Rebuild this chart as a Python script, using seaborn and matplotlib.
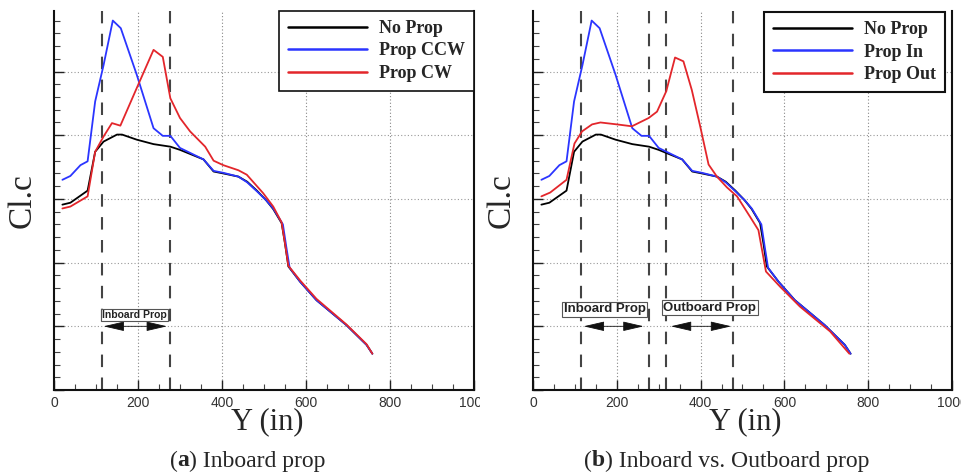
import numpy as np
import pandas as pd
import matplotlib
matplotlib.use("Agg")
import matplotlib.pyplot as plt
import seaborn as sns
from matplotlib.transforms import Bbox, TransformedBbox
from matplotlib.ticker import MultipleLocator

# ---------------- data ----------------
x_noprop = [20, 39, 80, 98, 118, 150, 162, 197, 237, 277, 300, 356, 380, 403, 439, 460, 483, 505, 522, 542, 550, 558, 586, 625, 696, 744, 758]
y_noprop = [2.91, 2.94, 3.13, 3.74, 3.90, 4.01, 4.01, 3.93, 3.86, 3.82, 3.77, 3.62, 3.43, 3.40, 3.35, 3.27, 3.13, 2.98, 2.84, 2.62, 2.30, 1.94, 1.70, 1.41, 1.02, 0.71, 0.57]

x_ccw = [20, 39, 63, 80, 98, 118, 140, 159, 197, 237, 259, 277, 300, 356, 380, 403, 439, 460, 483, 505, 522, 545, 553, 561, 586, 625, 696, 744, 758]
y_ccw = [3.30, 3.36, 3.53, 3.59, 4.53, 5.10, 5.80, 5.68, 4.95, 4.11, 3.99, 3.99, 3.80, 3.62, 3.44, 3.41, 3.35, 3.26, 3.12, 2.98, 2.85, 2.60, 2.25, 1.92, 1.70, 1.41, 1.02, 0.71, 0.57]

x_cw = [20, 39, 80, 98, 118, 138, 158, 197, 237, 259, 277, 300, 324, 360, 380, 403, 439, 459, 498, 522, 542, 550, 558, 586, 625, 696, 744, 758]
y_cw = [2.85, 2.88, 3.04, 3.74, 3.98, 4.19, 4.15, 4.74, 5.34, 5.23, 4.58, 4.27, 4.06, 3.82, 3.60, 3.53, 3.45, 3.38, 3.09, 2.88, 2.63, 2.30, 1.95, 1.72, 1.43, 1.03, 0.72, 0.57]

x_out = [20, 41, 80, 99, 117, 141, 161, 200, 236, 276, 296, 318, 339, 359, 379, 399, 419, 439, 463, 487, 518, 538, 556, 590, 637, 709, 755]
y_out = [3.04, 3.10, 3.30, 3.87, 4.06, 4.17, 4.20, 4.17, 4.14, 4.27, 4.37, 4.69, 5.22, 5.16, 4.71, 4.14, 3.54, 3.35, 3.18, 3.04, 2.72, 2.51, 1.86, 1.62, 1.31, 0.92, 0.57]

labels_a = ["No Prop", "Prop CCW", "Prop CW"]
labels_b = ["No Prop", "Prop In", "Prop Out"]
captions = [("a", " Inboard prop"), ("b", " Inboard vs. Outboard prop")]
inboard = (115, 277)
outboard = (318, 478)
xticks = [0, 200, 400, 600, 800, 1000]
yticks = [0, 1, 2, 3, 4, 5]

# ---------------- style ----------------
sns.set_style("ticks")
plt.rcParams["font.family"] = ["Liberation Serif", "DejaVu Serif"]

colors = ["#000000", "#2b35ff", "#e3262b"]

fig = plt.figure(figsize=(9.62, 4.74), dpi=100)
W, H = 962, 474
ax_a = fig.add_axes([54 / W, 84 / H, 420 / W, 379 / H])
ax_b = fig.add_axes([533 / W, 84 / H, 419 / W, 379 / H])


def frame(name, xs, ys):
    return pd.DataFrame({"Y": xs, "Cl": ys, "series": name})


def style_axes(ax):
    ax.set_xlim(0, 1000)
    ax.set_ylim(0, 5.95)
    ax.set_xticks(xticks)
    ax.set_xticklabels([str(t) for t in xticks], family=["Liberation Sans"], fontsize=10, color="#333333")
    ax.set_yticks(yticks)
    ax.set_yticklabels([])
    ax.xaxis.set_minor_locator(MultipleLocator(50))
    ax.yaxis.set_minor_locator(MultipleLocator(0.2))
    ax.tick_params(which="major", direction="in", length=7, width=1.0, color="#222222", pad=4)
    ax.tick_params(which="minor", direction="in", length=4, width=0.8, color="#444444")
    for t in [200, 400, 600, 800]:
        ax.axvline(t, color="#888888", lw=0.8, ls=(0, (1, 2)), zorder=0)
    for t in yticks[1:]:
        ax.axhline(t, color="#999999", lw=0.8, ls=(0, (1, 2)), zorder=0)
    ax.spines["top"].set_visible(False)
    for s in ["left", "bottom", "right"]:
        ax.spines[s].set_linewidth(1.5)
        ax.spines[s].set_color("#111111")
    ax.set_ylabel("Cl.c", fontsize=24, va="center")
    ax.yaxis.set_label_coords(-0.075, 0.5)
    ax.set_xlabel("Y (in)", fontsize=22, va="center")
    ax.xaxis.set_label_coords(0.507, -0.083)


def region(ax, lo, hi):
    for v in (lo, hi):
        ax.axvline(v, color="#444444", lw=1.5, ls=(0, (6, 5)), zorder=1)


def arrow(ax, lo, hi):
    ax.annotate("", xy=(lo, 1.0), xytext=(hi, 1.0),
                arrowprops=dict(arrowstyle="<|-|>,head_length=1.3,head_width=0.3",
                                lw=0.6, color="#111111", shrinkA=0, shrinkB=0),
                zorder=5)


def box(ax, x, y, text, fs):
    ax.text(x, y, text, ha="center", va="center", fontsize=fs,
            family=["Liberation Sans"], fontweight="bold", color="#222222",
            bbox=dict(boxstyle="square,pad=0.12", fc="white", ec="#555555", lw=0.8),
            zorder=6)


def legend(ax, labels, anchor, lw):
    leg = ax.legend(loc="upper right", bbox_to_anchor=anchor, borderaxespad=0,
                    prop={"family": "Liberation Serif", "weight": "bold", "size": 13},
                    handlelength=4.4, handletextpad=0.66, labelspacing=0.3,
                    borderpad=0.5, fancybox=False, framealpha=1, edgecolor="#111111")
    leg.get_frame().set_linewidth(lw)
    leg.set_zorder(10)
    for line in leg.get_lines():
        line.set_linewidth(1.8)
    return leg


# ---- panel (a) ----
df_a = pd.concat([frame(labels_a[0], x_noprop, y_noprop),
                  frame(labels_a[1], x_ccw, y_ccw),
                  frame(labels_a[2], x_cw, y_cw)])
sns.lineplot(data=df_a, x="Y", y="Cl", hue="series", palette=colors, ax=ax_a,
             estimator=None, sort=False, lw=1.3, hue_order=labels_a)
style_axes(ax_a)
region(ax_a, *inboard)
arrow(ax_a, 118, 269)
box(ax_a, 192, 1.18, "Inboard Prop", 7.5)
legend(ax_a, labels_a, (1.0, 1.0), 1.2)

# ---- panel (b) ----
df_b = pd.concat([frame(labels_b[0], x_noprop, y_noprop),
                  frame(labels_b[1], x_ccw, y_ccw),
                  frame(labels_b[2], x_out, y_out)])
sns.lineplot(data=df_b, x="Y", y="Cl", hue="series", palette=colors, ax=ax_b,
             estimator=None, sort=False, lw=1.3, hue_order=labels_b)
style_axes(ax_b)
region(ax_b, *inboard)
region(ax_b, *outboard)
arrow(ax_b, 121, 264)
arrow(ax_b, 329, 473)
box(ax_b, 171, 1.27, "Inboard Prop", 9.5)
box(ax_b, 422, 1.29, "Outboard Prop", 9.5)
legend(ax_b, labels_b, (0.984, 0.997), 1.5)

# clip left panel tick labels at the panel border (as in the reference image)
clip = TransformedBbox(Bbox([[0, 0], [480 / W, 1]]), fig.transFigure)
for lab in ax_a.get_xticklabels():
    lab.set_clip_box(clip)
    lab.set_clip_on(True)

# ---- captions: "(a) Inboard prop" with bold letter ----
yc = 1 - 461 / H
fig.canvas.draw()
renderer = fig.canvas.get_renderer()
for (tag, rest), xc in zip(captions, [247, 726]):
    probe = fig.text(xc / W, yc, "(" + tag + ")" + rest, fontsize=17, ha="center", va="center", alpha=0)
    x0 = probe.get_window_extent(renderer).x0
    parts = [("(", "normal"), (tag, "bold"), (")" + rest, "normal")]
    x = x0
    for s, wgt in parts:
        t = fig.text(x / W, yc, s, fontsize=17, fontweight=wgt, ha="left", va="center")
        x = t.get_window_extent(renderer).x1

fig.savefig("out.png", dpi=100)
